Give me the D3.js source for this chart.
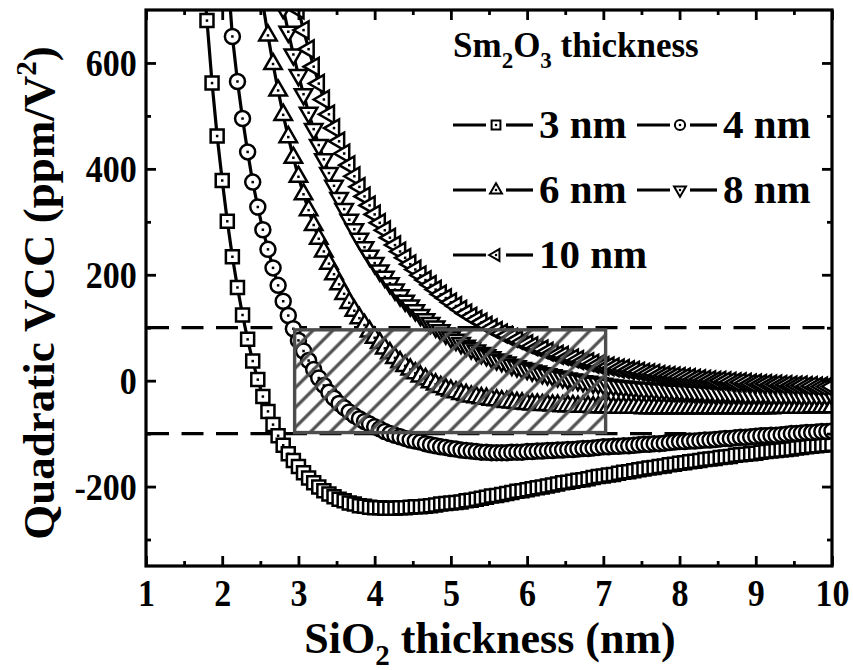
<!DOCTYPE html>
<html>
<head>
<meta charset="utf-8">
<script src="https://cdn.jsdelivr.net/npm/d3@7"></script>
<style>
  body { margin: 0; background: #fff; }
  svg { display: block; }
  text { font-family: "Liberation Serif", "Times New Roman", serif; font-weight: bold; fill: #000; }
</style>
</head>
<body>
<svg id="chart" width="853" height="670"></svg>
<script>
// ---- axis ticks ----
const xTickValues = [1, 2, 3, 4, 5, 6, 7, 8, 9, 10];
const xMinorTicks = [1.5, 2.5, 3.5, 4.5, 5.5, 6.5, 7.5, 8.5, 9.5];
const yTickValues = [-200, 0, 200, 400, 600];
const yMinorTicks = [-300, -100, 100, 300, 500];

// ---- SiO2 thickness sampling (nm): 1 to 10 nm in 1/15 nm steps ----
const sio2Grid = d3.range(136).map(i => 1 + i / 15);

// ---- quadratic VCC (ppm/V^2) per Sm2O3 thickness; each list starts at sio2Grid[start] ----
const sm2o3Labels = ["3 nm", "4 nm", "6 nm", "8 nm", "10 nm"];
const seriesStart = [11, 16, 22, 26, 29];

const vcc3nm = [
  800, 680, 562, 462, 378, 301, 234, 176, 124, 78,
  37, 2, -30, -58, -83, -104, -122, -138, -151, -162,
  -174, -184, -193, -201, -208, -214, -219, -224, -227, -231,
  -233, -236, -237, -239, -240, -240, -241, -241, -241, -240,
  -240, -239, -238, -238, -237, -236, -235, -233, -232, -231,
  -230, -229, -227, -226, -224, -222, -220, -218, -217, -215,
  -213, -211, -209, -208, -206, -204, -202, -201, -199, -197,
  -195, -193, -192, -190, -188, -187, -185, -183, -181, -180,
  -178, -177, -175, -173, -172, -170, -168, -167, -165, -164,
  -162, -161, -159, -158, -156, -155, -153, -152, -151, -149,
  -148, -147, -145, -144, -143, -141, -140, -139, -138, -137,
  -135, -134, -133, -132, -131, -130, -129, -127, -126, -125,
  -124, -123, -122, -121, -120
];
const vcc4nm = [
  780, 650, 565, 495, 432, 375, 328, 285, 248, 213,
  180, 150, 123, 98, 76, 56, 38, 21, 5, -9,
  -22, -33, -43, -51, -59, -66, -72, -77, -82, -87,
  -91, -96, -100, -103, -106, -109, -112, -114, -116, -119,
  -121, -123, -125, -126, -128, -129, -131, -132, -133, -134,
  -135, -135, -136, -136, -136, -136, -135, -135, -135, -134,
  -134, -133, -133, -132, -132, -131, -131, -130, -130, -129,
  -128, -128, -127, -126, -125, -125, -124, -124, -123, -123,
  -122, -121, -120, -120, -119, -119, -118, -117, -116, -115,
  -115, -114, -114, -113, -112, -112, -111, -110, -109, -109,
  -108, -107, -107, -106, -105, -104, -104, -103, -103, -102,
  -101, -100, -100, -99, -98, -98, -97, -96, -96, -95
];
const vcc6nm = [
  777, 712, 652, 598, 548, 502, 460, 421, 385, 352,
  322, 294, 268, 244, 221, 201, 182, 164, 147, 132,
  118, 105, 93, 81, 71, 61, 52, 43, 35, 28,
  21, 14, 8, 3, -3, -7, -12, -16, -19, -22,
  -25, -27, -30, -31, -33, -34, -36, -37, -39, -40,
  -41, -42, -43, -44, -45, -45, -46, -46, -47, -47,
  -48, -48, -48, -49, -49, -49, -50, -50, -50, -50,
  -51, -51, -51, -51, -51, -51, -52, -52, -52, -52,
  -52, -52, -52, -52, -52, -52, -52, -52, -52, -52,
  -52, -52, -52, -52, -52, -52, -52, -52, -52, -52,
  -52, -52, -51, -51, -51, -51, -51, -51, -51, -50,
  -50, -50, -50, -50
];
const vcc8nm = [
  753, 704, 659, 616, 577, 541, 506, 475, 445, 418,
  392, 368, 345, 324, 304, 286, 268, 252, 236, 222,
  208, 196, 184, 172, 161, 151, 142, 133, 124, 116,
  109, 102, 95, 89, 82, 77, 71, 66, 61, 57,
  52, 48, 44, 40, 37, 34, 30, 27, 24, 22,
  19, 17, 14, 12, 10, 8, 6, 4, 2, 1,
  -1, -2, -4, -5, -6, -8, -9, -10, -11, -12,
  -13, -14, -15, -15, -16, -17, -17, -18, -19, -19,
  -20, -20, -21, -21, -22, -22, -23, -23, -23, -24,
  -24, -24, -25, -25, -25, -25, -25, -26, -26, -26,
  -26, -26, -26, -27, -27, -27, -27, -27, -27, -27
];
const vcc10nm = [
  742, 701, 662, 626, 593, 561, 531, 503, 477, 452,
  429, 407, 386, 366, 348, 331, 314, 298, 284, 270,
  256, 244, 232, 220, 210, 199, 190, 181, 172, 163,
  156, 148, 141, 134, 127, 121, 115, 110, 104, 99,
  94, 89, 85, 81, 77, 73, 69, 65, 62, 59,
  55, 52, 49, 47, 44, 42, 39, 37, 35, 32,
  30, 28, 27, 25, 23, 22, 20, 19, 17, 15,
  14, 13, 11, 10, 9, 8, 7, 6, 5, 4,
  3, 2, 1, 0, 0, -1, -2, -3, -3, -4,
  -5, -5, -6, -6, -7, -7, -8, -8, -9, -9,
  -9, -10, -10, -11, -11, -11, -11
];
const seriesValues = [vcc3nm, vcc4nm, vcc6nm, vcc8nm, vcc10nm];

// ---- target window and ±100 ppm/V^2 limits ----
const limitLines = [100, -100];
const windowSio2 = [2.95, 7.03];
const windowVcc = [-98, 96];

// ---- layout ----
const svg = d3.select("#chart");
const plot = { left: 146, right: 832, top: 10, bottom: 566 };
const x = d3.scaleLinear().domain([1, 10]).range([plot.left, plot.right]);
const y = d3.scaleLinear().domain([-350, 700]).range([plot.bottom, plot.top]);

const defs = svg.append("defs");
defs.append("clipPath").attr("id", "plotClip")
  .append("rect")
  .attr("x", plot.left).attr("y", plot.top)
  .attr("width", plot.right - plot.left).attr("height", plot.bottom - plot.top);

const hatch = defs.append("pattern")
  .attr("id", "hatch")
  .attr("patternUnits", "userSpaceOnUse")
  .attr("width", 14).attr("height", 14)
  .attr("patternTransform", "rotate(45)");
hatch.append("line")
  .attr("x1", 7).attr("y1", -1).attr("x2", 7).attr("y2", 15)
  .attr("stroke", "#4d4d4d").attr("stroke-width", 3.2);

// marker outlines
function markerPath(kind, s) {
  const h = s * Math.sqrt(3) / 2;
  switch (kind) {
    case "square": {
      const a = s / 2;
      return `M${-a},${-a}H${a}V${a}H${-a}Z`;
    }
    case "circle": {
      const r = s / 2;
      return `M${r},0A${r},${r} 0 1,1 ${-r},0A${r},${r} 0 1,1 ${r},0Z`;
    }
    case "up":
      return `M0,${-2 * h / 3}L${s / 2},${h / 3}L${-s / 2},${h / 3}Z`;
    case "down":
      return `M0,${2 * h / 3}L${s / 2},${-h / 3}L${-s / 2},${-h / 3}Z`;
    case "left":
      return `M${-2 * h / 3},0L${h / 3},${-s / 2}L${h / 3},${s / 2}Z`;
  }
}
const markerKind = ["square", "circle", "up", "down", "left"];
const markerSize = { square: 13, circle: 15, up: 17.5, down: 17.5, left: 17.5 };

function drawMarker(g, kind, cx, cy, scale, sw) {
  const m = g.append("g").attr("transform", `translate(${cx},${cy})`);
  m.append("path")
    .attr("d", markerPath(kind, markerSize[kind] * scale))
    .attr("fill", "#fff").attr("stroke", "#000")
    .attr("stroke-width", sw).attr("stroke-linejoin", "miter");
  const dot = 2.5 * Math.max(scale, 0.9);
  m.append("rect")
    .attr("x", -dot / 2).attr("y", -dot / 2)
    .attr("width", dot).attr("height", dot).attr("fill", "#000");
}

// ---- dashed limit lines ----
const plotArea = svg.append("g").attr("clip-path", "url(#plotClip)");
plotArea.selectAll("line.limit").data(limitLines).join("line")
  .attr("class", "limit")
  .attr("x1", plot.left + 1).attr("x2", plot.right)
  .attr("y1", d => y(d)).attr("y2", d => y(d))
  .attr("stroke", "#000").attr("stroke-width", 3.2)
  .attr("stroke-dasharray", "22,12.5");

// ---- curves ----
const line = d3.line().x(d => x(d[0])).y(d => y(d[1]));
seriesValues.forEach((vals, s) => {
  const pts = vals.map((v, k) => [sio2Grid[seriesStart[s] + k], v]);
  const g = plotArea.append("g").attr("class", "series");
  g.append("path").datum(pts)
    .attr("d", line)
    .attr("fill", "none").attr("stroke", "#000").attr("stroke-width", 3.2);
  pts.forEach(p => drawMarker(g, markerKind[s], x(p[0]), y(p[1]), 1, 2.5));
});

// ---- hatched target window ----
plotArea.append("rect")
  .attr("x", x(windowSio2[0])).attr("y", y(windowVcc[1]))
  .attr("width", x(windowSio2[1]) - x(windowSio2[0]))
  .attr("height", y(windowVcc[0]) - y(windowVcc[1]))
  .attr("fill", "url(#hatch)")
  .attr("stroke", "#4d4d4d").attr("stroke-width", 3.4);

// ---- axes (ticks point inward on all four sides) ----
const plainNumber = d => String(d);
function styleAxis(g) {
  g.select(".domain").remove();
  g.selectAll(".tick line").attr("stroke", "#000").attr("stroke-width", 2.8);
}
function styleLabels(g) {
  g.selectAll("text")
    .attr("font-size", 37).attr("font-family", null)
    .attr("transform", "scale(0.92,1)");
}
svg.append("g").attr("transform", `translate(0,${plot.bottom})`)
  .call(d3.axisBottom(x).tickValues(xTickValues).tickSize(-10).tickPadding(14).tickFormat(plainNumber))
  .call(styleAxis).call(styleLabels);
svg.append("g").attr("transform", `translate(0,${plot.bottom})`)
  .call(d3.axisBottom(x).tickValues(xMinorTicks).tickSize(-5).tickFormat(""))
  .call(styleAxis);
svg.append("g").attr("transform", `translate(0,${plot.top})`)
  .call(d3.axisTop(x).tickValues(xTickValues).tickSize(-10).tickFormat(""))
  .call(styleAxis);
svg.append("g").attr("transform", `translate(0,${plot.top})`)
  .call(d3.axisTop(x).tickValues(xMinorTicks).tickSize(-5).tickFormat(""))
  .call(styleAxis);

svg.append("g").attr("transform", `translate(${plot.left},0)`)
  .call(d3.axisLeft(y).tickValues(yTickValues).tickSize(-10).tickPadding(10).tickFormat(plainNumber))
  .call(styleAxis).call(styleLabels)
  .call(g => g.selectAll("text").attr("dy", "0.35em"));
svg.append("g").attr("transform", `translate(${plot.left},0)`)
  .call(d3.axisLeft(y).tickValues(yMinorTicks).tickSize(-5).tickFormat(""))
  .call(styleAxis);
svg.append("g").attr("transform", `translate(${plot.right},0)`)
  .call(d3.axisRight(y).tickValues(yTickValues).tickSize(-10).tickFormat(""))
  .call(styleAxis);
svg.append("g").attr("transform", `translate(${plot.right},0)`)
  .call(d3.axisRight(y).tickValues(yMinorTicks).tickSize(-5).tickFormat(""))
  .call(styleAxis);

// frame
svg.append("rect")
  .attr("x", plot.left).attr("y", plot.top)
  .attr("width", plot.right - plot.left).attr("height", plot.bottom - plot.top)
  .attr("fill", "none").attr("stroke", "#000").attr("stroke-width", 3.2);

// ---- axis titles ----
const xTitle = svg.append("text")
  .attr("x", 490).attr("y", 653)
  .attr("text-anchor", "middle").attr("font-size", 44);
xTitle.append("tspan").text("SiO");
xTitle.append("tspan").attr("font-size", 29).attr("dy", 12).text("2");
xTitle.append("tspan").attr("dy", -12).text(" thickness (nm)");

const yTitle = svg.append("text")
  .attr("transform", "translate(54,293) rotate(-90)")
  .attr("text-anchor", "middle").attr("font-size", 45);
yTitle.append("tspan").text("Quadratic VCC (ppm/V");
yTitle.append("tspan").attr("font-size", 29).attr("dy", -18).text("2");
yTitle.append("tspan").attr("dy", 18).text(")");

// ---- legend ----
const legend = svg.append("g");
const lt = legend.append("text").attr("x", 453).attr("y", 57).attr("font-size", 35);
lt.append("tspan").text("Sm");
lt.append("tspan").attr("font-size", 23).attr("dy", 11).text("2");
lt.append("tspan").attr("dy", -11).text("O");
lt.append("tspan").attr("font-size", 23).attr("dy", 11).text("3");
lt.append("tspan").attr("dy", -11).text(" thickness");

const legendRows = [125, 125, 190, 190, 255];
const legendCols = [453, 637, 453, 637, 453];
sm2o3Labels.forEach((label, s) => {
  const lx = legendCols[s], ly = legendRows[s];
  const g = legend.append("g");
  g.append("line").attr("x1", lx).attr("x2", lx + 33).attr("y1", ly).attr("y2", ly)
    .attr("stroke", "#000").attr("stroke-width", 3.2);
  g.append("line").attr("x1", lx + 53).attr("x2", lx + 80).attr("y1", ly).attr("y2", ly)
    .attr("stroke", "#000").attr("stroke-width", 3.2);
  drawMarker(g, markerKind[s], lx + 43, ly, 0.68, 2);
  g.append("text").attr("x", lx + 86).attr("y", ly + 13).attr("font-size", 41).text(label);
});
</script>
</body>
</html>
